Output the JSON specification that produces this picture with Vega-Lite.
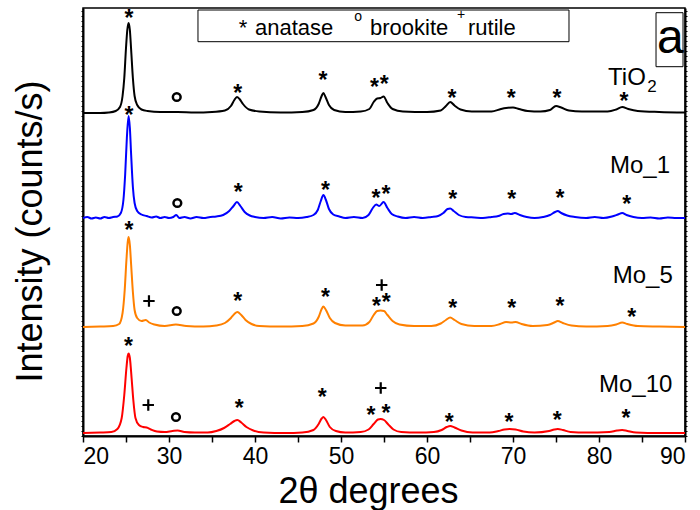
{
  "$schema": "https://vega.github.io/schema/vega-lite/v6.json",
  "width": 602,
  "height": 428,
  "autosize": "none",
  "padding": {"left": 83, "top": 8, "right": 15, "bottom": 74},
  "background": "white",
  "config": {
    "font": "Liberation Sans",
    "view": {"stroke": "black", "strokeWidth": 1.5},
    "axis": {"grid": false, "domainColor": "black", "tickColor": "black", "labelColor": "black", "titleColor": "black", "labelFont": "Liberation Sans", "titleFont": "Liberation Sans", "titleFontWeight": "normal"}
  },
  "datasets": {
    "traces": [
      {"s":"TiO2","t":20,"i":323},{"s":"TiO2","t":22,"i":323},{"s":"TiO2","t":23,"i":323.5},{"s":"TiO2","t":23.8,"i":325},{"s":"TiO2","t":24.3,"i":329},{"s":"TiO2","t":24.6,"i":340},{"s":"TiO2","t":24.8,"i":358},{"s":"TiO2","t":25.0,"i":388},{"s":"TiO2","t":25.15,"i":406},{"s":"TiO2","t":25.3,"i":413},{"s":"TiO2","t":25.45,"i":406},{"s":"TiO2","t":25.6,"i":386},{"s":"TiO2","t":25.8,"i":358},{"s":"TiO2","t":26.0,"i":340},{"s":"TiO2","t":26.3,"i":331},{"s":"TiO2","t":26.8,"i":326.5},{"s":"TiO2","t":27.5,"i":325},{"s":"TiO2","t":29,"i":324},{"s":"TiO2","t":31,"i":324},{"s":"TiO2","t":33,"i":323.5},{"s":"TiO2","t":35,"i":324},{"s":"TiO2","t":36.5,"i":325.5},{"s":"TiO2","t":37.2,"i":330},{"s":"TiO2","t":37.6,"i":336},{"s":"TiO2","t":37.9,"i":339},{"s":"TiO2","t":38.2,"i":337},{"s":"TiO2","t":38.6,"i":332},{"s":"TiO2","t":39.3,"i":326.5},{"s":"TiO2","t":40.5,"i":324.5},{"s":"TiO2","t":43,"i":323.5},{"s":"TiO2","t":45.5,"i":324},{"s":"TiO2","t":46.8,"i":326},{"s":"TiO2","t":47.4,"i":332},{"s":"TiO2","t":47.75,"i":340},{"s":"TiO2","t":47.95,"i":343},{"s":"TiO2","t":48.2,"i":339},{"s":"TiO2","t":48.6,"i":331},{"s":"TiO2","t":49.2,"i":326},{"s":"TiO2","t":50.5,"i":324},{"s":"TiO2","t":52.3,"i":324.5},{"s":"TiO2","t":53.3,"i":327},{"s":"TiO2","t":53.8,"i":334},{"s":"TiO2","t":54.2,"i":337.5},{"s":"TiO2","t":54.6,"i":338},{"s":"TiO2","t":54.95,"i":339.5},{"s":"TiO2","t":55.4,"i":333},{"s":"TiO2","t":56,"i":327},{"s":"TiO2","t":57.2,"i":324.5},{"s":"TiO2","t":60,"i":324},{"s":"TiO2","t":61.6,"i":325.5},{"s":"TiO2","t":62.2,"i":330},{"s":"TiO2","t":62.7,"i":334},{"s":"TiO2","t":63.2,"i":330.5},{"s":"TiO2","t":63.9,"i":326.5},{"s":"TiO2","t":65.2,"i":324.5},{"s":"TiO2","t":67.5,"i":324.5},{"s":"TiO2","t":68.6,"i":327},{"s":"TiO2","t":69.2,"i":328},{"s":"TiO2","t":70.0,"i":328.5},{"s":"TiO2","t":70.7,"i":327},{"s":"TiO2","t":71.7,"i":325},{"s":"TiO2","t":73.2,"i":324.5},{"s":"TiO2","t":74.3,"i":326},{"s":"TiO2","t":75.0,"i":330},{"s":"TiO2","t":75.6,"i":328.5},{"s":"TiO2","t":76.5,"i":325.5},{"s":"TiO2","t":78,"i":324.5},{"s":"TiO2","t":81,"i":324.5},{"s":"TiO2","t":82.0,"i":326.5},{"s":"TiO2","t":82.7,"i":329},{"s":"TiO2","t":83.4,"i":327},{"s":"TiO2","t":84.5,"i":325},{"s":"TiO2","t":87,"i":324},{"s":"TiO2","t":90,"i":323.5},

      {"s":"Mo_1","t":20,"i":218},{"s":"Mo_1","t":20.5,"i":219},{"s":"Mo_1","t":21,"i":217.5},{"s":"Mo_1","t":21.5,"i":218.5},{"s":"Mo_1","t":22,"i":217.5},{"s":"Mo_1","t":22.5,"i":219},{"s":"Mo_1","t":23,"i":218},{"s":"Mo_1","t":23.5,"i":219},{"s":"Mo_1","t":24,"i":219.5},{"s":"Mo_1","t":24.4,"i":223},{"s":"Mo_1","t":24.7,"i":236},{"s":"Mo_1","t":24.9,"i":261},{"s":"Mo_1","t":25.1,"i":298},{"s":"Mo_1","t":25.3,"i":320},{"s":"Mo_1","t":25.45,"i":308},{"s":"Mo_1","t":25.6,"i":281},{"s":"Mo_1","t":25.8,"i":249},{"s":"Mo_1","t":26.0,"i":233},{"s":"Mo_1","t":26.3,"i":225},{"s":"Mo_1","t":26.8,"i":221.5},{"s":"Mo_1","t":27.4,"i":220},{"s":"Mo_1","t":28,"i":218.5},{"s":"Mo_1","t":28.5,"i":219.5},{"s":"Mo_1","t":29,"i":218},{"s":"Mo_1","t":29.5,"i":219},{"s":"Mo_1","t":30,"i":218},{"s":"Mo_1","t":30.5,"i":219},{"s":"Mo_1","t":30.85,"i":221},{"s":"Mo_1","t":31.2,"i":218},{"s":"Mo_1","t":31.8,"i":219},{"s":"Mo_1","t":32.5,"i":217.5},{"s":"Mo_1","t":33.2,"i":219},{"s":"Mo_1","t":34,"i":218},{"s":"Mo_1","t":34.8,"i":219},{"s":"Mo_1","t":35.5,"i":219.5},{"s":"Mo_1","t":36.3,"i":221},{"s":"Mo_1","t":37,"i":225},{"s":"Mo_1","t":37.5,"i":230},{"s":"Mo_1","t":37.9,"i":234},{"s":"Mo_1","t":38.3,"i":230},{"s":"Mo_1","t":38.8,"i":224},{"s":"Mo_1","t":39.4,"i":220.5},{"s":"Mo_1","t":40,"i":219},{"s":"Mo_1","t":41,"i":218},{"s":"Mo_1","t":42,"i":219},{"s":"Mo_1","t":43,"i":217.5},{"s":"Mo_1","t":44,"i":218.5},{"s":"Mo_1","t":45,"i":218},{"s":"Mo_1","t":46,"i":219},{"s":"Mo_1","t":46.8,"i":221},{"s":"Mo_1","t":47.3,"i":226},{"s":"Mo_1","t":47.65,"i":235},{"s":"Mo_1","t":47.95,"i":241},{"s":"Mo_1","t":48.25,"i":236},{"s":"Mo_1","t":48.6,"i":227},{"s":"Mo_1","t":49.1,"i":221.5},{"s":"Mo_1","t":49.8,"i":219.5},{"s":"Mo_1","t":50.5,"i":218},{"s":"Mo_1","t":51.5,"i":219},{"s":"Mo_1","t":52.5,"i":218},{"s":"Mo_1","t":53.2,"i":221},{"s":"Mo_1","t":53.7,"i":228},{"s":"Mo_1","t":54.1,"i":231.5},{"s":"Mo_1","t":54.45,"i":230},{"s":"Mo_1","t":54.95,"i":234},{"s":"Mo_1","t":55.4,"i":228},{"s":"Mo_1","t":55.9,"i":222},{"s":"Mo_1","t":56.6,"i":219.5},{"s":"Mo_1","t":57.5,"i":218},{"s":"Mo_1","t":58.5,"i":219},{"s":"Mo_1","t":59.5,"i":218},{"s":"Mo_1","t":60.5,"i":219},{"s":"Mo_1","t":61.3,"i":220},{"s":"Mo_1","t":61.9,"i":223},{"s":"Mo_1","t":62.4,"i":227},{"s":"Mo_1","t":62.7,"i":227.5},{"s":"Mo_1","t":63.1,"i":225},{"s":"Mo_1","t":63.7,"i":221},{"s":"Mo_1","t":64.5,"i":219},{"s":"Mo_1","t":65.5,"i":218.5},{"s":"Mo_1","t":66.5,"i":218},{"s":"Mo_1","t":67.5,"i":219},{"s":"Mo_1","t":68.3,"i":220},{"s":"Mo_1","t":68.9,"i":222},{"s":"Mo_1","t":69.4,"i":222.5},{"s":"Mo_1","t":69.8,"i":222},{"s":"Mo_1","t":70.2,"i":223},{"s":"Mo_1","t":70.8,"i":221},{"s":"Mo_1","t":71.6,"i":219},{"s":"Mo_1","t":72.5,"i":218},{"s":"Mo_1","t":73.5,"i":219},{"s":"Mo_1","t":74.3,"i":221},{"s":"Mo_1","t":74.9,"i":224},{"s":"Mo_1","t":75.2,"i":225},{"s":"Mo_1","t":75.6,"i":223},{"s":"Mo_1","t":76.3,"i":220.5},{"s":"Mo_1","t":77.2,"i":219},{"s":"Mo_1","t":78.5,"i":218},{"s":"Mo_1","t":79.5,"i":219},{"s":"Mo_1","t":80.5,"i":218},{"s":"Mo_1","t":81.5,"i":219.5},{"s":"Mo_1","t":82.2,"i":221.5},{"s":"Mo_1","t":82.7,"i":223},{"s":"Mo_1","t":83.2,"i":221},{"s":"Mo_1","t":84,"i":219},{"s":"Mo_1","t":85,"i":218},{"s":"Mo_1","t":86,"i":218.5},{"s":"Mo_1","t":87,"i":217.5},{"s":"Mo_1","t":88,"i":218.5},{"s":"Mo_1","t":89,"i":218},{"s":"Mo_1","t":90,"i":218},

      {"s":"Mo_5","t":20,"i":109},{"s":"Mo_5","t":22,"i":109.5},{"s":"Mo_5","t":23.5,"i":110},{"s":"Mo_5","t":24.2,"i":112},{"s":"Mo_5","t":24.6,"i":123},{"s":"Mo_5","t":24.85,"i":146},{"s":"Mo_5","t":25.05,"i":176},{"s":"Mo_5","t":25.2,"i":194},{"s":"Mo_5","t":25.3,"i":199},{"s":"Mo_5","t":25.45,"i":191},{"s":"Mo_5","t":25.6,"i":171},{"s":"Mo_5","t":25.8,"i":144},{"s":"Mo_5","t":26.0,"i":126},{"s":"Mo_5","t":26.3,"i":118},{"s":"Mo_5","t":26.8,"i":115},{"s":"Mo_5","t":27.3,"i":116},{"s":"Mo_5","t":27.7,"i":113.5},{"s":"Mo_5","t":28.3,"i":111.5},{"s":"Mo_5","t":29.5,"i":110},{"s":"Mo_5","t":30.8,"i":111.5},{"s":"Mo_5","t":32,"i":110},{"s":"Mo_5","t":34,"i":109.5},{"s":"Mo_5","t":35.5,"i":110.5},{"s":"Mo_5","t":36.5,"i":113},{"s":"Mo_5","t":37.2,"i":118},{"s":"Mo_5","t":37.6,"i":122},{"s":"Mo_5","t":37.95,"i":124},{"s":"Mo_5","t":38.4,"i":121},{"s":"Mo_5","t":38.9,"i":116},{"s":"Mo_5","t":39.6,"i":112},{"s":"Mo_5","t":40.5,"i":110},{"s":"Mo_5","t":43,"i":109.5},{"s":"Mo_5","t":45.5,"i":110},{"s":"Mo_5","t":46.8,"i":112.5},{"s":"Mo_5","t":47.4,"i":119},{"s":"Mo_5","t":47.75,"i":127},{"s":"Mo_5","t":47.95,"i":129.5},{"s":"Mo_5","t":48.25,"i":126},{"s":"Mo_5","t":48.7,"i":118},{"s":"Mo_5","t":49.3,"i":113},{"s":"Mo_5","t":50.5,"i":110.5},{"s":"Mo_5","t":52.5,"i":110.5},{"s":"Mo_5","t":53.3,"i":114},{"s":"Mo_5","t":53.8,"i":121},{"s":"Mo_5","t":54.2,"i":125},{"s":"Mo_5","t":54.6,"i":125.5},{"s":"Mo_5","t":55.0,"i":125},{"s":"Mo_5","t":55.4,"i":121},{"s":"Mo_5","t":56,"i":115},{"s":"Mo_5","t":56.8,"i":111.5},{"s":"Mo_5","t":58.5,"i":110},{"s":"Mo_5","t":60.5,"i":110},{"s":"Mo_5","t":61.6,"i":112.5},{"s":"Mo_5","t":62.2,"i":116},{"s":"Mo_5","t":62.7,"i":118.5},{"s":"Mo_5","t":63.2,"i":116},{"s":"Mo_5","t":64,"i":112},{"s":"Mo_5","t":65.5,"i":110},{"s":"Mo_5","t":67.5,"i":110},{"s":"Mo_5","t":68.5,"i":112},{"s":"Mo_5","t":69.2,"i":114},{"s":"Mo_5","t":69.8,"i":113.5},{"s":"Mo_5","t":70.3,"i":114},{"s":"Mo_5","t":71,"i":112},{"s":"Mo_5","t":72.3,"i":110},{"s":"Mo_5","t":74,"i":111},{"s":"Mo_5","t":74.8,"i":113.5},{"s":"Mo_5","t":75.2,"i":115},{"s":"Mo_5","t":75.8,"i":113},{"s":"Mo_5","t":76.8,"i":110.5},{"s":"Mo_5","t":78.5,"i":109.5},{"s":"Mo_5","t":81,"i":110},{"s":"Mo_5","t":82,"i":111.5},{"s":"Mo_5","t":82.7,"i":113.5},{"s":"Mo_5","t":83.3,"i":112},{"s":"Mo_5","t":84.5,"i":110},{"s":"Mo_5","t":87,"i":109.5},{"s":"Mo_5","t":90,"i":109},

      {"s":"Mo_10","t":20,"i":3},{"s":"Mo_10","t":22,"i":3.5},{"s":"Mo_10","t":23.3,"i":4},{"s":"Mo_10","t":24.0,"i":7},{"s":"Mo_10","t":24.5,"i":18},{"s":"Mo_10","t":24.8,"i":41},{"s":"Mo_10","t":25.05,"i":68},{"s":"Mo_10","t":25.2,"i":80},{"s":"Mo_10","t":25.3,"i":82.5},{"s":"Mo_10","t":25.45,"i":78},{"s":"Mo_10","t":25.65,"i":58},{"s":"Mo_10","t":25.85,"i":36},{"s":"Mo_10","t":26.1,"i":18},{"s":"Mo_10","t":26.5,"i":11},{"s":"Mo_10","t":27.0,"i":9},{"s":"Mo_10","t":27.4,"i":8.5},{"s":"Mo_10","t":27.9,"i":6.5},{"s":"Mo_10","t":28.6,"i":4.5},{"s":"Mo_10","t":29.5,"i":4},{"s":"Mo_10","t":30.4,"i":5},{"s":"Mo_10","t":31,"i":5.5},{"s":"Mo_10","t":31.8,"i":4},{"s":"Mo_10","t":33,"i":3.5},{"s":"Mo_10","t":34.5,"i":3.5},{"s":"Mo_10","t":35.5,"i":5},{"s":"Mo_10","t":36.4,"i":8},{"s":"Mo_10","t":37.1,"i":12},{"s":"Mo_10","t":37.6,"i":15},{"s":"Mo_10","t":37.95,"i":16},{"s":"Mo_10","t":38.4,"i":13.5},{"s":"Mo_10","t":39.0,"i":9},{"s":"Mo_10","t":39.8,"i":5.5},{"s":"Mo_10","t":41,"i":3.5},{"s":"Mo_10","t":43.5,"i":3},{"s":"Mo_10","t":45.5,"i":3.5},{"s":"Mo_10","t":46.8,"i":6},{"s":"Mo_10","t":47.4,"i":12},{"s":"Mo_10","t":47.75,"i":17.5},{"s":"Mo_10","t":47.95,"i":19},{"s":"Mo_10","t":48.25,"i":16},{"s":"Mo_10","t":48.7,"i":9},{"s":"Mo_10","t":49.4,"i":5},{"s":"Mo_10","t":50.5,"i":3.5},{"s":"Mo_10","t":52.3,"i":4},{"s":"Mo_10","t":53.2,"i":6.5},{"s":"Mo_10","t":53.8,"i":12},{"s":"Mo_10","t":54.3,"i":16.5},{"s":"Mo_10","t":54.6,"i":17},{"s":"Mo_10","t":55.0,"i":16},{"s":"Mo_10","t":55.5,"i":11.5},{"s":"Mo_10","t":56.1,"i":6.5},{"s":"Mo_10","t":57,"i":4},{"s":"Mo_10","t":59,"i":3.5},{"s":"Mo_10","t":60.8,"i":4},{"s":"Mo_10","t":61.7,"i":6},{"s":"Mo_10","t":62.3,"i":9},{"s":"Mo_10","t":62.7,"i":10},{"s":"Mo_10","t":63.2,"i":8.5},{"s":"Mo_10","t":64,"i":5.5},{"s":"Mo_10","t":65.3,"i":3.5},{"s":"Mo_10","t":67.3,"i":3.5},{"s":"Mo_10","t":68.3,"i":5},{"s":"Mo_10","t":69.0,"i":6.5},{"s":"Mo_10","t":69.6,"i":7},{"s":"Mo_10","t":70.3,"i":6.5},{"s":"Mo_10","t":71.2,"i":4.5},{"s":"Mo_10","t":72.5,"i":3.5},{"s":"Mo_10","t":74.2,"i":5},{"s":"Mo_10","t":74.8,"i":6.5},{"s":"Mo_10","t":75.2,"i":7},{"s":"Mo_10","t":75.8,"i":6},{"s":"Mo_10","t":76.7,"i":4},{"s":"Mo_10","t":78.5,"i":3.5},{"s":"Mo_10","t":81.2,"i":4},{"s":"Mo_10","t":82.1,"i":5.5},{"s":"Mo_10","t":82.7,"i":6},{"s":"Mo_10","t":83.3,"i":5},{"s":"Mo_10","t":84.3,"i":3.5},{"s":"Mo_10","t":87,"i":3},{"s":"Mo_10","t":90,"i":3}
    ],
    "phases": [
      {"m":"*","t":25.35,"i":423},{"m":"o","t":30.9,"i":339},{"m":"*","t":38.0,"i":348},{"m":"*","t":47.9,"i":361},{"m":"*","t":53.9,"i":354},{"m":"*","t":55.02,"i":357},{"m":"*","t":62.9,"i":343},{"m":"*","t":69.8,"i":343},{"m":"*","t":75.1,"i":343},{"m":"*","t":82.9,"i":340},
      {"m":"*","t":25.35,"i":326},{"m":"o","t":30.97,"i":233},{"m":"*","t":38.06,"i":249},{"m":"*","t":48.2,"i":251},{"m":"*","t":54.07,"i":243},{"m":"*","t":55.23,"i":247},{"m":"*","t":62.99,"i":242},{"m":"*","t":69.85,"i":242},{"m":"*","t":75.47,"i":243},{"m":"*","t":83.22,"i":237},
      {"m":"*","t":25.35,"i":211},{"m":"+","t":27.67,"i":135},{"m":"o","t":30.9,"i":125},{"m":"*","t":37.99,"i":140},{"m":"*","t":48.2,"i":144},{"m":"+","t":54.73,"i":151},{"m":"*","t":54.12,"i":135},{"m":"*","t":55.25,"i":139},{"m":"*","t":62.99,"i":133},{"m":"*","t":69.85,"i":133},{"m":"*","t":75.47,"i":135},{"m":"*","t":83.8,"i":124},
      {"m":"*","t":25.3,"i":95},{"m":"+","t":27.59,"i":31},{"m":"o","t":30.81,"i":19},{"m":"*","t":38.17,"i":33},{"m":"*","t":47.83,"i":44},{"m":"+","t":54.62,"i":48},{"m":"*","t":53.49,"i":26},{"m":"*","t":55.23,"i":28},{"m":"*","t":62.59,"i":19},{"m":"*","t":69.53,"i":19},{"m":"*","t":75.15,"i":21},{"m":"*","t":83.14,"i":23}
    ],
    "samples": [
      {"label":"TiO","t":81.05,"i":351},
      {"label":"Mo_1","t":81.28,"i":263},
      {"label":"Mo_5","t":81.6,"i":153},
      {"label":"Mo_10","t":80.0,"i":44}
    ],
    "keyWords": [
      {"label":"anatase","t":40.0,"i":401},
      {"label":"brookite","t":53.37,"i":401},
      {"label":"rutile","t":64.77,"i":401}
    ],
    "boxes": [
      {"box":"key","t":33.37,"t2":76.51,"i":426,"i2":394.3},
      {"box":"panel","t":86.63,"t2":89.77,"i":423.3,"i2":369.3}
    ]
  },
  "resolve": {"axis": {"y": "independent"}},
  "layer": [
    {
      "data": {"name": "traces"},
      "mark": {"type": "line", "strokeWidth": 2, "interpolate": "monotone", "clip": true},
      "encoding": {
        "x": {"field": "t", "type": "quantitative", "scale": {"domain": [20, 90], "nice": false, "zero": false},
          "axis": {"title": "2θ degrees", "values": [20,25,30,35,40,45,50,55,60,65,70,75,80,85,90], "labelExpr": "datum.value % 10 === 0 ? datum.label : ''", "tickSize": 6, "tickWidth": 1.5, "domainWidth": 2, "labelFontSize": 23, "labelPadding": 3, "titleFontSize": 36, "titleX": 285, "titleY": 55, "titleBaseline": "middle"}},
        "y": {"field": "i", "type": "quantitative", "scale": {"domain": [0, 428], "nice": false, "zero": false},
          "axis": {"orient": "left", "title": "Intensity (counts/s)", "labels": false, "tickCount": 100, "tickSize": 2, "tickWidth": 1, "domainWidth": 2, "titleFontSize": 36, "titleX": -53, "titleY": 223, "titleBaseline": "middle", "titleAlign": "center", "titleAngle": 270}},
        "color": {"field": "s", "type": "nominal", "scale": {"domain": ["TiO2", "Mo_1", "Mo_5", "Mo_10"], "range": ["#000000", "#0000ff", "#ff8000", "#ff0000"]}, "legend": null}
      }
    },
    {
      "data": {"name": "boxes"},
      "mark": {"type": "rect", "fill": "white", "fillOpacity": 0, "stroke": "black", "strokeWidth": 1},
      "encoding": {
        "x": {"field": "t", "type": "quantitative"},
        "x2": {"field": "t2"},
        "y": {"field": "i", "type": "quantitative", "scale": {"domain": [0, 428], "nice": false, "zero": false},
          "axis": {"orient": "right", "title": null, "labels": false, "tickCount": 100, "tickSize": 2, "tickWidth": 1, "domainWidth": 2}},
        "y2": {"field": "i2"}
      }
    },
    {
      "data": {"name": "phases"},
      "transform": [{"filter": "datum.m === '*'"}],
      "mark": {"type": "text", "fontSize": 23, "fontWeight": "bold", "baseline": "middle", "align": "center", "dy": 6, "color": "black"},
      "encoding": {
        "x": {"field": "t", "type": "quantitative"},
        "y": {"field": "i", "type": "quantitative", "axis": null},
        "text": {"field": "m"}
      }
    },
    {
      "data": {"name": "phases"},
      "transform": [{"filter": "datum.m === '+'"}],
      "mark": {"type": "point", "shape": "M-1,0L1,0M0,-1L0,1", "filled": false, "size": 130, "strokeWidth": 2.2, "color": "black", "opacity": 1},
      "encoding": {
        "x": {"field": "t", "type": "quantitative"},
        "y": {"field": "i", "type": "quantitative", "axis": null}
      }
    },
    {
      "data": {"name": "phases"},
      "transform": [{"filter": "datum.m === 'o'"}],
      "mark": {"type": "point", "shape": "circle", "filled": false, "size": 60, "strokeWidth": 2.5, "color": "black", "opacity": 1},
      "encoding": {
        "x": {"field": "t", "type": "quantitative"},
        "y": {"field": "i", "type": "quantitative", "axis": null}
      }
    },
    {
      "data": {"name": "samples"},
      "mark": {"type": "text", "fontSize": 24, "baseline": "alphabetic", "align": "left", "color": "black"},
      "encoding": {
        "x": {"field": "t", "type": "quantitative"},
        "y": {"field": "i", "type": "quantitative", "axis": null},
        "text": {"field": "label"}
      }
    },
    {
      "data": {"values": [{"label": "2", "t": 85.6, "i": 344}]},
      "mark": {"type": "text", "fontSize": 17, "baseline": "alphabetic", "align": "left", "color": "black"},
      "encoding": {
        "x": {"field": "t", "type": "quantitative"},
        "y": {"field": "i", "type": "quantitative", "axis": null},
        "text": {"field": "label"}
      }
    },
    {
      "data": {"name": "keyWords"},
      "mark": {"type": "text", "fontSize": 22, "baseline": "alphabetic", "align": "left", "color": "black"},
      "encoding": {
        "x": {"field": "t", "type": "quantitative"},
        "y": {"field": "i", "type": "quantitative", "axis": null},
        "text": {"field": "label"}
      }
    },
    {
      "data": {"values": [{"label": "*", "t": 38.6, "i": 414}]},
      "mark": {"type": "text", "fontSize": 22, "baseline": "middle", "align": "center", "dy": 6, "color": "black"},
      "encoding": {
        "x": {"field": "t", "type": "quantitative"},
        "y": {"field": "i", "type": "quantitative", "axis": null},
        "text": {"field": "label"}
      }
    },
    {
      "data": {"values": [{"label": "o", "t": 51.98, "i": 419}, {"label": "+", "t": 63.95, "i": 421}]},
      "mark": {"type": "text", "fontSize": 14, "baseline": "middle", "align": "center", "color": "black"},
      "encoding": {
        "x": {"field": "t", "type": "quantitative"},
        "y": {"field": "i", "type": "quantitative", "axis": null},
        "text": {"field": "label"}
      }
    },
    {
      "data": {"values": [{"label": "a", "t": 88.3, "i": 383}]},
      "mark": {"type": "text", "fontSize": 48, "baseline": "alphabetic", "align": "center", "color": "black"},
      "encoding": {
        "x": {"field": "t", "type": "quantitative"},
        "y": {"field": "i", "type": "quantitative", "axis": null},
        "text": {"field": "label"}
      }
    }
  ]
}
